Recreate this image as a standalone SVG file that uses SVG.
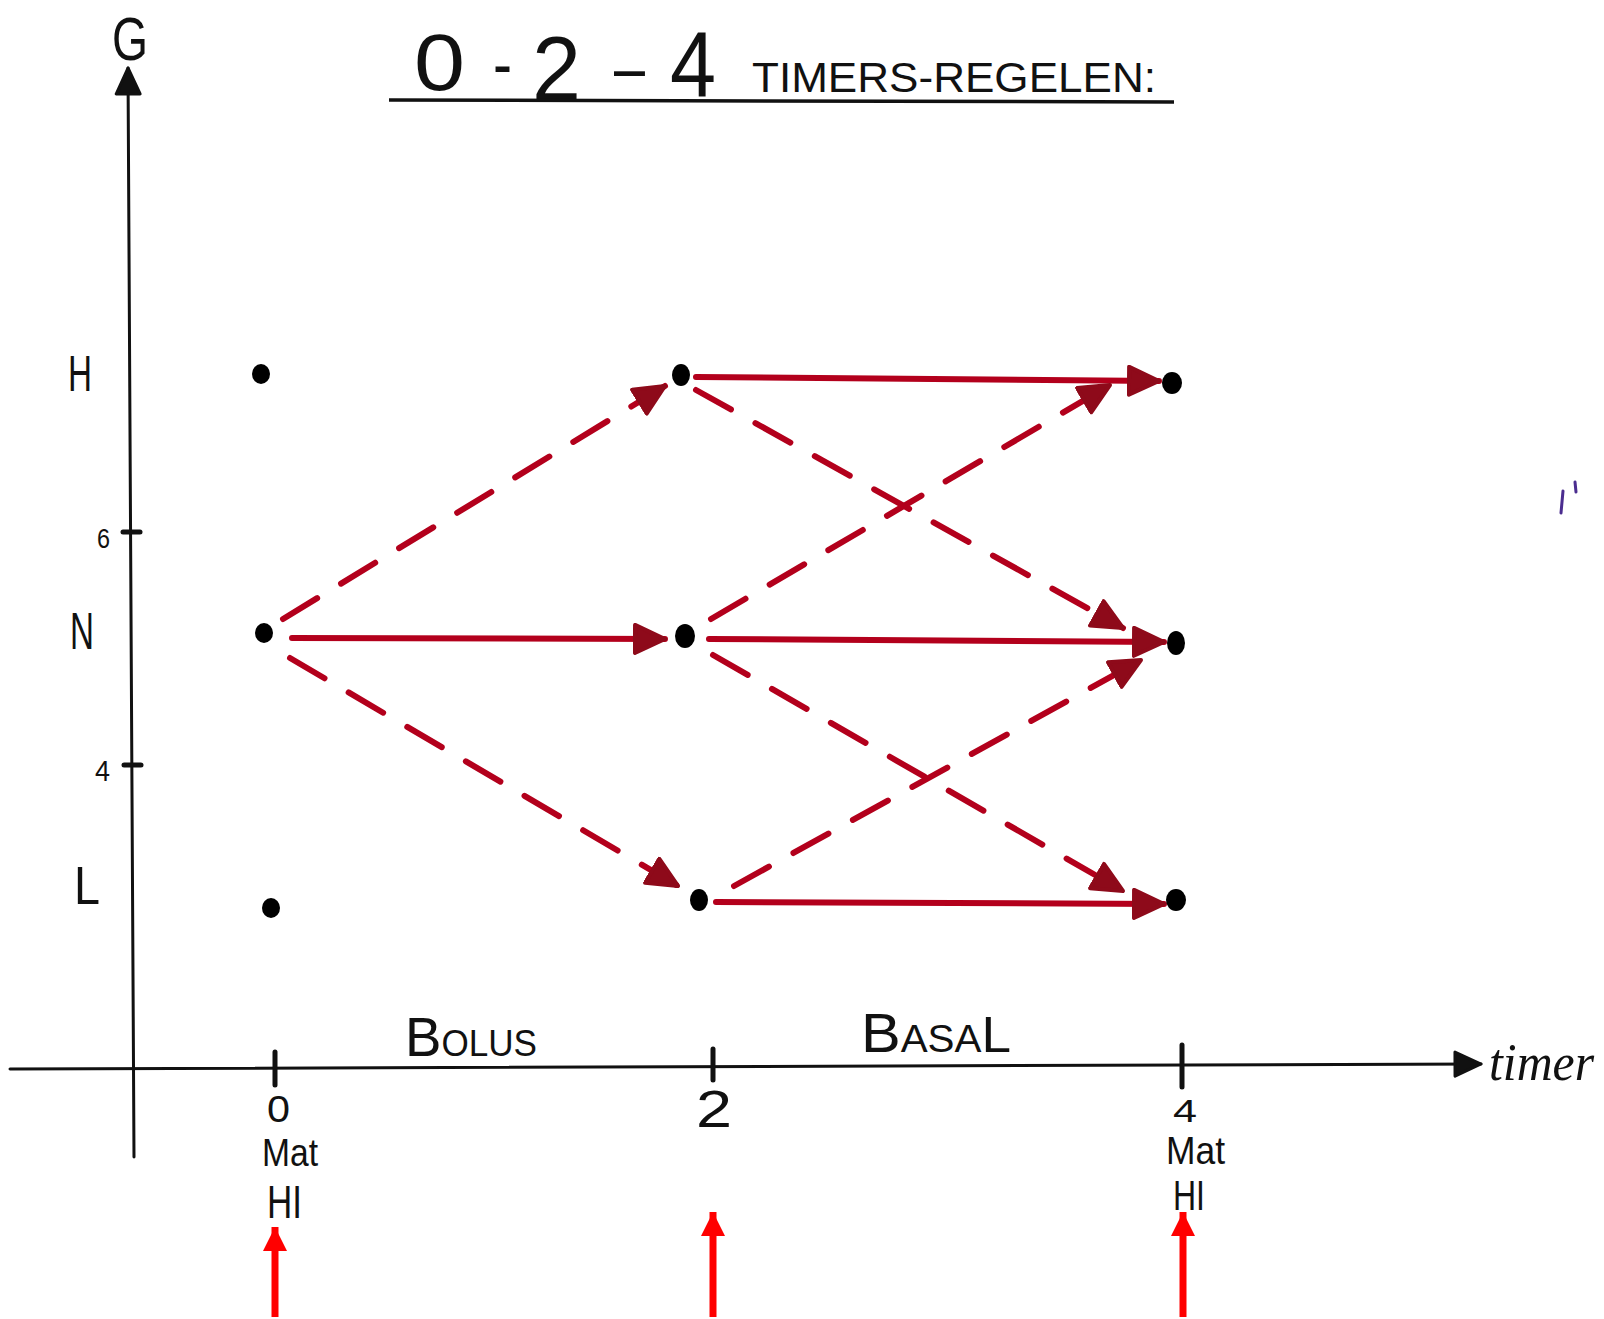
<svg xmlns="http://www.w3.org/2000/svg" width="1604" height="1319" viewBox="0 0 1604 1319">
<style>
  .ink{fill:#111;font-family:"Liberation Sans","DejaVu Sans",sans-serif}
  .axis{stroke:#111;stroke-width:3;fill:none;stroke-linecap:round}
  .tick{stroke:#111;stroke-width:5;stroke-linecap:round}
  .solid{stroke:#b3001c;stroke-width:6;fill:none;stroke-linecap:round}
  .dash{stroke:#b3001c;stroke-width:6;fill:none;stroke-linecap:round;stroke-dasharray:40 28}
  .dot{fill:#000}
  .med{stroke:#ff0000;stroke-width:7;fill:none}
</style>
<defs>
  <marker id="head" markerUnits="userSpaceOnUse" markerWidth="40" markerHeight="40" refX="32" refY="16" orient="auto">
    <path d="M2,2 L32,16 L2,30 Z" fill="#8e0a1a" stroke="#8e0a1a" stroke-width="4" stroke-linejoin="round"/>
  </marker>
  <marker id="medhead" markerUnits="userSpaceOnUse" markerWidth="30" markerHeight="30" refX="24" refY="12" orient="auto">
    <path d="M0,0 L24,12 L0,24 Z" fill="#ff0000"/>
  </marker>
  <marker id="axhead" markerUnits="userSpaceOnUse" markerWidth="34" markerHeight="34" refX="28" refY="14" orient="auto">
    <path d="M2,2 L28,14 L2,26 Z" fill="#111" stroke="#111" stroke-width="3" stroke-linejoin="round"/>
  </marker>
</defs>

<g id="title">
  <text class="ink" x="414" y="90" font-size="80" textLength="51" lengthAdjust="spacingAndGlyphs">0</text>
  <text class="ink" x="493" y="88" font-size="70" textLength="19" lengthAdjust="spacingAndGlyphs">-</text>
  <text class="ink" x="532" y="100" font-size="90" textLength="49" lengthAdjust="spacingAndGlyphs">2</text>
  <text class="ink" x="614" y="92" font-size="70" textLength="31" lengthAdjust="spacingAndGlyphs">–</text>
  <text class="ink" x="670" y="96" font-size="92" textLength="46" lengthAdjust="spacingAndGlyphs">4</text>
  <text class="ink" x="752" y="92" font-size="42" textLength="404" lengthAdjust="spacingAndGlyphs">TIMERS-REGELEN:</text>
  <line x1="389" y1="100" x2="1174" y2="102" stroke="#111" stroke-width="3.5"/>
</g>

<g id="axes">
  <line class="axis" x1="134" y1="1157" x2="128" y2="68" marker-end="url(#axhead)"/>
  <line class="axis" x1="10" y1="1069" x2="1481" y2="1064" marker-end="url(#axhead)"/>
  <line class="tick" x1="123" y1="532" x2="140" y2="532"/>
  <line class="tick" x1="124" y1="765" x2="141" y2="765"/>
  <line class="tick" x1="275" y1="1052" x2="275" y2="1085"/>
  <line class="tick" x1="713" y1="1049" x2="713" y2="1080"/>
  <line class="tick" x1="1182" y1="1045" x2="1182" y2="1087"/>
</g>

<g id="labels">
  <text class="ink" x="112" y="60" font-size="62" textLength="36" lengthAdjust="spacingAndGlyphs">G</text>
  <text class="ink" x="68" y="391" font-size="50" textLength="24" lengthAdjust="spacingAndGlyphs">H</text>
  <text class="ink" x="97" y="548" font-size="28" textLength="13" lengthAdjust="spacingAndGlyphs">6</text>
  <text class="ink" x="70" y="649" font-size="52" textLength="24" lengthAdjust="spacingAndGlyphs">N</text>
  <text class="ink" x="95" y="781" font-size="30" textLength="15" lengthAdjust="spacingAndGlyphs">4</text>
  <text class="ink" x="74" y="904" font-size="54" textLength="26" lengthAdjust="spacingAndGlyphs">L</text>
  <text class="ink" x="405" y="1056" font-size="36" textLength="132" lengthAdjust="spacingAndGlyphs"><tspan font-size="56">B</tspan>OLUS</text>
  <text class="ink" x="861" y="1052" font-size="38" textLength="150" lengthAdjust="spacingAndGlyphs"><tspan font-size="56">B</tspan>ASA<tspan font-size="50">L</tspan></text>
  <text x="1489" y="1080" font-family="Liberation Serif,serif" font-style="italic" font-size="52" fill="#111" textLength="105" lengthAdjust="spacingAndGlyphs">timer</text>
  <text class="ink" x="267" y="1122" font-size="36" textLength="23" lengthAdjust="spacingAndGlyphs">0</text>
  <text class="ink" x="262" y="1166" font-size="38" textLength="56" lengthAdjust="spacingAndGlyphs">Mat</text>
  <text class="ink" x="267" y="1218" font-size="46" textLength="35" lengthAdjust="spacingAndGlyphs">HI</text>
  <text class="ink" x="696" y="1127" font-size="52" textLength="36" lengthAdjust="spacingAndGlyphs">2</text>
  <text class="ink" x="1173" y="1122" font-size="32" textLength="24" lengthAdjust="spacingAndGlyphs">4</text>
  <text class="ink" x="1166" y="1164" font-size="38" textLength="59" lengthAdjust="spacingAndGlyphs">Mat</text>
  <text class="ink" x="1173" y="1210" font-size="42" textLength="32" lengthAdjust="spacingAndGlyphs">HI</text>
</g>

<g id="connectors">
  <line class="solid" x1="292" y1="638" x2="665" y2="639" marker-end="url(#head)"/>
  <line class="dash" x1="283" y1="619" x2="665" y2="386" marker-end="url(#head)"/>
  <line class="dash" x1="290" y1="658" x2="678" y2="886" marker-end="url(#head)"/>
  <line class="solid" x1="696" y1="377" x2="1159" y2="381" marker-end="url(#head)"/>
  <line class="dash" x1="696" y1="390" x2="1123" y2="628" marker-end="url(#head)"/>
  <line class="dash" x1="711" y1="619" x2="1110" y2="385" marker-end="url(#head)"/>
  <line class="solid" x1="709" y1="639" x2="1164" y2="642" marker-end="url(#head)"/>
  <line class="dash" x1="713" y1="655" x2="1123" y2="891" marker-end="url(#head)"/>
  <line class="dash" x1="734" y1="886" x2="1141" y2="660" marker-end="url(#head)"/>
  <line class="solid" x1="716" y1="902" x2="1164" y2="904" marker-end="url(#head)"/>
  <line class="med" x1="275" y1="1317" x2="275" y2="1227" marker-end="url(#medhead)"/>
  <line class="med" x1="713" y1="1317" x2="713" y2="1212" marker-end="url(#medhead)"/>
  <line class="med" x1="1183" y1="1317" x2="1183" y2="1212" marker-end="url(#medhead)"/>
</g>

<g id="node-H0"><ellipse class="dot" cx="261" cy="374" rx="9" ry="10"/></g>
<g id="node-N0"><ellipse class="dot" cx="264" cy="633" rx="9" ry="10"/></g>
<g id="node-L0"><ellipse class="dot" cx="271" cy="908" rx="9" ry="10"/></g>
<g id="node-H2"><ellipse class="dot" cx="681" cy="375" rx="9" ry="11"/></g>
<g id="node-N2"><ellipse class="dot" cx="685" cy="636" rx="10" ry="12"/></g>
<g id="node-L2"><ellipse class="dot" cx="699" cy="900" rx="9" ry="11"/></g>
<g id="node-H4"><ellipse class="dot" cx="1172" cy="383" rx="10" ry="11"/></g>
<g id="node-N4"><ellipse class="dot" cx="1176" cy="643" rx="9" ry="12"/></g>
<g id="node-L4"><ellipse class="dot" cx="1176" cy="900" rx="10" ry="11"/></g>

<g id="speck">
  <path d="M1563,491 L1561,513" stroke="#4b2d8f" stroke-width="3" stroke-linecap="round"/>
  <path d="M1575,482 L1576,492" stroke="#4b2d8f" stroke-width="3" stroke-linecap="round"/>
</g>
</svg>
